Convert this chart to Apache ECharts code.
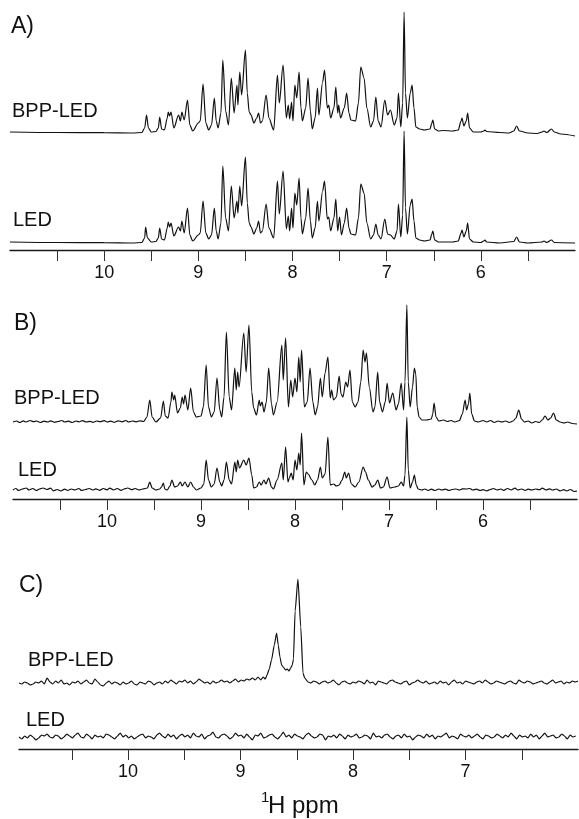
<!DOCTYPE html>
<html>
<head>
<meta charset="utf-8">
<script src="https://cdn.jsdelivr.net/npm/echarts@6/dist/echarts.min.js"></script>
<style>
html,body{margin:0;padding:0;background:#fff;}
#chart{width:579px;height:819px;}
</style>
</head>
<body>
<div id="chart"></div>
<script>
// ---------- tick values ----------
const ticksAB = [5.5, 6, 6.5, 7, 7.5, 8, 8.5, 9, 9.5, 10, 10.5];
const labelsAB = [6, 7, 8, 9, 10];
const ticksC = [6.5, 7, 7.5, 8, 8.5, 9, 9.5, 10, 10.5];
const labelsC = [7, 8, 9, 10];

// ---------- panel A: [ppm, intensity] ----------
const aBpp = [[11.0,1],[10.5,0.5],[10.0,0.3],[9.7,0],[9.6,0.5],[9.57,5],[9.55,18],[9.53,5],[9.5,1],[9.45,1.5],[9.425,5],[9.41,16],[9.39,4],[9.36,3],[9.33,15],[9.32,21],[9.305,17],[9.29,21],[9.26,5],[9.21,18],[9.19,12],[9.175,21],[9.15,13],[9.115,33],[9.09,8],[9.06,2],[9.0,10],[8.98,12],[8.95,49],[8.92,10],[8.89,3],[8.86,8],[8.83,35],[8.81,12],[8.79,5],[8.76,20],[8.74,73],[8.71,22],[8.68,8],[8.65,55],[8.62,20],[8.59,48],[8.58,28],[8.56,61],[8.54,38],[8.50,83],[8.48,40],[8.46,21],[8.44,18],[8.41,10],[8.38,15],[8.36,20],[8.34,10],[8.32,12],[8.28,38],[8.25,15],[8.20,3],[8.16,58],[8.14,30],[8.10,68],[8.065,15],[8.045,28],[8.03,14],[8.01,31],[7.995,12],[7.975,48],[7.955,35],[7.93,61],[7.91,25],[7.895,12],[7.86,25],[7.835,55],[7.81,22],[7.79,4],[7.76,15],[7.735,45],[7.72,18],[7.68,51],[7.66,63],[7.63,25],[7.615,28],[7.595,15],[7.56,25],[7.54,46],[7.52,20],[7.51,28],[7.49,15],[7.45,25],[7.425,40],[7.40,20],[7.38,13],[7.33,12],[7.30,30],[7.275,66],[7.24,55],[7.21,25],[7.17,6],[7.14,12],[7.115,36],[7.09,12],[7.06,6],[7.02,33],[6.99,18],[6.96,23],[6.92,8],[6.89,15],[6.875,40],[6.85,6],[6.83,30],[6.815,121],[6.80,40],[6.78,15],[6.75,40],[6.73,48],[6.71,25],[6.69,6],[6.65,4],[6.6,3],[6.54,4],[6.52,10],[6.51,13],[6.49,4],[6.45,2],[6.4,2.5],[6.3,2],[6.24,3],[6.21,12],[6.20,15],[6.18,7],[6.155,12],[6.14,20],[6.12,5],[6.08,1],[6.0,1],[5.97,2],[5.955,3],[5.94,1.5],[5.8,0.5],[5.7,0],[5.65,2],[5.62,7],[5.59,2],[5.5,0],[5.4,-0.5],[5.35,1],[5.33,2],[5.30,0.5],[5.25,4],[5.22,1],[5.15,-1],[5.0,-3]];

const aLed = [[11.0,1],[10.5,0.5],[10.0,0.3],[9.7,0],[9.6,0.5],[9.57,5],[9.56,16],[9.54,5],[9.5,1],[9.45,1.5],[9.425,5],[9.41,15],[9.39,4],[9.36,3],[9.33,15],[9.32,21],[9.305,16],[9.29,20],[9.26,7],[9.21,16],[9.19,12],[9.175,22],[9.15,10],[9.115,35],[9.09,8],[9.06,2],[9.0,8],[8.98,10],[8.95,42],[8.92,10],[8.89,4],[8.86,8],[8.83,35],[8.81,12],[8.79,4],[8.76,20],[8.74,77],[8.71,25],[8.68,12],[8.65,57],[8.62,25],[8.59,42],[8.58,30],[8.56,57],[8.54,37],[8.50,86],[8.48,40],[8.46,20],[8.44,16],[8.41,9],[8.38,15],[8.36,22],[8.34,10],[8.32,12],[8.28,39],[8.25,15],[8.20,5],[8.16,62],[8.14,29],[8.10,72],[8.065,14],[8.045,27],[8.03,12],[8.01,35],[7.995,15],[7.975,50],[7.955,38],[7.93,65],[7.91,25],[7.895,9],[7.86,25],[7.835,55],[7.81,22],[7.79,5],[7.76,15],[7.735,42],[7.72,22],[7.68,52],[7.66,62],[7.63,24],[7.615,26],[7.595,12],[7.56,25],[7.54,44],[7.52,12],[7.50,26],[7.48,8],[7.45,20],[7.425,35],[7.40,15],[7.38,9],[7.33,8],[7.30,25],[7.275,59],[7.24,50],[7.21,20],[7.17,4],[7.14,8],[7.115,19],[7.09,8],[7.06,4],[7.02,24],[6.99,9],[6.96,8],[6.92,4],[6.89,12],[6.875,39],[6.85,6],[6.83,28],[6.815,112],[6.80,35],[6.78,9],[6.75,38],[6.73,44],[6.71,22],[6.69,5],[6.65,3],[6.6,2],[6.54,3],[6.52,9],[6.51,12],[6.49,3],[6.45,1],[6.3,1],[6.24,2],[6.21,10],[6.20,13],[6.18,6],[6.155,12],[6.14,20],[6.12,4],[6.08,1],[6.0,0.5],[5.97,2],[5.955,3],[5.94,1],[5.8,0],[5.65,1.5],[5.62,6],[5.59,1],[5.5,0],[5.35,1],[5.33,2],[5.30,0.5],[5.25,3],[5.22,0.5],[5.0,0]];

// ---------- panel B ----------
const bBpp = [[11.0,0],[10.96,1],[10.93,-0.5],[10.89,1.2],[10.86,0],[10.82,1.5],[10.78,0.3],[10.75,1],[10.71,-0.5],[10.67,0.8],[10.63,0],[10.6,1.2],[10.56,-0.3],[10.52,0.5],[10.48,1.5],[10.45,0],[10.41,0.8],[10.37,-0.5],[10.33,1],[10.3,0.2],[10.26,1.3],[10.22,0],[10.18,0.7],[10.15,-0.4],[10.11,1],[10.07,0.3],[10.03,1.4],[10.0,0],[9.96,0.8],[9.92,-0.3],[9.88,1.2],[9.84,0.2],[9.8,1.5],[9.77,0],[9.73,1],[9.69,0.2],[9.65,1.2],[9.61,0.5],
[9.575,5],[9.545,22],[9.52,5],[9.48,0],[9.43,4],[9.40,21],[9.38,6],[9.35,4],[9.32,20],[9.31,30],[9.29,22],[9.28,27],[9.25,9],[9.22,14],[9.20,25],[9.185,18],[9.17,27],[9.14,12],[9.11,34],[9.08,10],[9.05,5],[9.0,6],[8.975,15],[8.945,57],[8.92,15],[8.89,5],[8.86,10],[8.83,44],[8.80,12],[8.78,5],[8.755,25],[8.73,90],[8.70,25],[8.675,12],[8.64,54],[8.625,32],[8.61,50],[8.595,35],[8.545,89],[8.52,50],[8.49,97],[8.46,30],[8.44,14],[8.41,7],[8.38,22],[8.37,16],[8.35,20],[8.33,10],[8.305,20],[8.28,54],[8.25,18],[8.23,7],[8.19,20],[8.14,77],[8.125,42],[8.10,84],[8.07,15],[8.045,42],[8.025,25],[8.0,44],[7.98,30],[7.96,65],[7.945,40],[7.93,72],[7.90,15],[7.87,20],[7.84,54],[7.81,20],[7.785,7],[7.76,15],[7.73,44],[7.71,25],[7.68,49],[7.65,65],[7.625,24],[7.61,32],[7.59,22],[7.56,25],[7.53,46],[7.51,28],[7.49,25],[7.46,40],[7.44,35],[7.415,52],[7.39,20],[7.36,15],[7.33,20],[7.30,40],[7.275,72],[7.255,60],[7.24,69],[7.21,35],[7.17,10],[7.15,15],[7.12,50],[7.10,20],[7.07,10],[7.04,20],[7.02,39],[6.995,19],[6.96,29],[6.925,12],[6.90,18],[6.87,39],[6.845,12],[6.83,40],[6.81,117],[6.795,40],[6.775,15],[6.75,35],[6.73,54],[6.715,48],[6.70,15],[6.68,5],[6.65,2],[6.6,2],[6.55,3],[6.535,8],[6.52,19],[6.50,5],[6.47,1],[6.42,2],[6.38,0.5],[6.34,1.5],[6.30,0],[6.25,1.5],[6.22,8],[6.19,22],[6.175,12],[6.155,18],[6.14,29],[6.12,8],[6.09,1],[6.05,0],[6.0,1.5],[5.96,0],[5.92,1.5],[5.88,-0.5],[5.84,1],[5.80,0],[5.76,1],[5.72,-0.5],[5.68,1],[5.65,4],[5.62,12],[5.59,3],[5.56,0],[5.52,1],[5.48,-1],[5.44,0.5],[5.40,-0.5],[5.37,2],[5.34,6],[5.31,2],[5.28,4],[5.25,9],[5.22,2],[5.18,0],[5.14,-1],[5.1,0],[5.05,-1.5],[5.0,-2]];

const bLed = [[11.0,0],[10.97,1.5],[10.94,-0.5],[10.9,1],[10.86,2],[10.83,0],[10.79,1.5],[10.75,-0.5],[10.72,1],[10.68,2],[10.64,0.5],[10.6,1.8],[10.57,-0.8],[10.53,0.5],[10.49,-1],[10.45,0.8],[10.42,-0.5],[10.38,1],[10.34,0],[10.3,1.5],[10.27,-0.5],[10.23,0.5],[10.19,1.5],[10.15,0],[10.12,1.2],[10.08,-0.3],[10.04,1.5],[10.0,0.2],[9.97,1.8],[9.93,0],[9.89,1.5],[9.85,-0.3],[9.82,1],[9.78,2],[9.74,0.3],[9.7,1.5],[9.66,0],[9.62,1],
[9.57,2],[9.545,8],[9.52,2],[9.48,0],[9.44,1],[9.42,3],[9.40,7],[9.385,1],[9.36,0],[9.33,4],[9.31,10],[9.28,3],[9.25,4],[9.22,8],[9.20,4],[9.17,8],[9.14,3],[9.11,8],[9.08,3],[9.05,0],[9.0,2],[8.97,6],[8.945,30],[8.92,10],[8.89,3],[8.86,6],[8.83,22],[8.80,8],[8.78,4],[8.755,10],[8.73,28],[8.70,10],[8.675,6],[8.64,28],[8.625,18],[8.61,30],[8.59,22],[8.545,30],[8.52,25],[8.49,32],[8.46,15],[8.44,2],[8.41,3],[8.38,8],[8.36,5],[8.33,10],[8.31,6],[8.28,12],[8.25,3],[8.23,1],[8.19,10],[8.14,27],[8.125,10],[8.10,43],[8.075,8],[8.06,12],[8.04,17],[8.02,10],[8.0,30],[7.98,20],[7.96,37],[7.945,25],[7.93,57],[7.905,5],[7.88,18],[7.86,16],[7.82,10],[7.79,5],[7.76,10],[7.73,23],[7.71,12],[7.68,16],[7.65,53],[7.625,5],[7.59,6],[7.56,4],[7.53,5],[7.50,10],[7.47,18],[7.455,12],[7.43,17],[7.40,6],[7.36,3],[7.32,8],[7.275,23],[7.25,18],[7.22,10],[7.18,3],[7.15,5],[7.12,10],[7.09,2],[7.06,3],[7.02,13],[6.99,2],[6.94,3],[6.90,4],[6.87,8],[6.845,4],[6.83,15],[6.81,73],[6.795,20],[6.775,2],[6.75,8],[6.73,15],[6.71,5],[6.69,1],
[6.65,0],[6.62,1],[6.58,-0.5],[6.55,0.8],[6.51,-0.5],[6.47,1],[6.44,0],[6.40,0.8],[6.36,-0.5],[6.33,0.5],[6.29,1],[6.25,0],[6.22,1.2],[6.18,1],[6.14,1.5],[6.11,0],[6.07,0.8],[6.03,-0.5],[6.0,0.3],[5.96,-0.8],[5.92,0.5],[5.89,1.5],[5.85,0],[5.81,1],[5.78,-0.3],[5.74,1.5],[5.70,0],[5.66,1.8],[5.63,0],[5.59,1],[5.55,-0.5],[5.52,0.8],[5.48,0],[5.44,1],[5.40,0.3],[5.37,1.8],[5.33,0],[5.29,1.2],[5.26,0],[5.22,1],[5.18,-0.8],[5.14,0.3],[5.11,-1],[5.07,0.5],[5.03,-1.5],[5.0,-1]];

// ---------- panel C (digitised with a fixed ppm step) ----------
const cStep = 0.025;
const cBppLeftStart = 10.97;
const cBppLeft = [0,-1,1,0,-2,-1,1,0,2,-1,
5,1,-1,2,0,3,-1,0,-2,1,
0,2,-1,1,3,0,-1,4,1,-2,
-3,0,2,-1,1,0,-2,1,-1,0,
2,-1,-2,1,0,-1,2,1,-2,0,
1,-1,2,0,3,1,-1,2,1,3,
0,2,-1,1,4,2,0,1,-1,2,
0,1,3,1,2,0,2,4,1,3,
2,4,3,5,3,6];
const cBppPeaks = [[8.82,3],[8.80,6],[8.78,4],[8.765,8],[8.745,14],[8.725,23],[8.70,38],[8.68,50],[8.665,38],[8.65,26],[8.635,18],[8.62,16],[8.60,13],[8.585,14],[8.57,12],[8.555,15],[8.54,18],[8.53,24],[8.515,72],[8.49,104],[8.465,56],[8.445,10],[8.43,5]];
const cBppRightStart = 8.40;
const cBppRight = [1,0,2,1,-1,1,2,0,1,3,
0,-2,1,2,0,-1,1,0,2,1,
-1,3,0,1,-2,2,1,0,-1,2,
3,1,0,-1,1,2,-2,0,1,3,
1,0,2,-1,0,1,-1,2,0,1,
-2,1,3,0,1,-1,2,1,0,-1,
1,2,0,3,1,-1,0,2,1,0,
-1,1,2,0,-1,3,1,0,2,1,
-1,0,1,2,0,-1,1,3,0,1,
2,-1,1,0,2,1,2];
const cLedStart = 10.97;
const cLed = [0,-2,1,-1,2,0,-3,-1,2,1,
3,0,-1,2,1,-2,0,3,1,-1,
2,4,0,-1,3,1,-2,2,0,1,
-1,3,2,0,-2,1,4,0,2,-1,
1,-2,0,2,3,-1,1,0,-2,2,
4,1,-1,3,0,2,-2,1,3,0,
2,-1,4,1,0,3,-2,1,2,5,
0,-1,2,3,1,-2,0,4,1,2,
-1,3,0,-3,2,1,4,-1,0,2,
3,0,-2,1,5,0,2,-1,3,1,
0,-2,2,4,1,-1,0,3,2,-3,
1,0,2,-1,3,1,-2,2,0,1,
3,-1,0,2,1,-2,4,0,1,-1,
2,3,0,-2,1,2,-1,3,0,1,
-3,0,2,1,-1,3,0,2,-2,1,
0,2,4,-1,1,0,-2,3,1,0,
2,-1,1,3,0,-2,2,1,-1,0,
3,1,-1,2,0,4,1,-2,2,0,
1,-1,3,0,2,-2,1,4,0,1,
2,-1,0,3,1,-2,2,0,1];

function sampled(start, vals){
  return vals.map((v,i)=>[+(start - i*cStep).toFixed(4), v]);
}
const cBppData = sampled(cBppLeftStart, cBppLeft).concat(cBppPeaks, sampled(cBppRightStart, cBppRight));
const cLedData = sampled(cLedStart, cLed);

const FONT = '"Liberation Sans", Arial, Helvetica, sans-serif';

const chart = echarts.init(document.getElementById('chart'), null, {renderer:'canvas'});

function xAxisVisible(gi, min, max, ticks, labels){
  return {
    type:'value', gridIndex:gi, min:min, max:max, inverse:true,
    axisLine:{show:true, onZero:false, lineStyle:{color:'#1a1a1a', width:1.3}},
    axisTick:{show:true, inside:false, length:11, customValues:ticks, lineStyle:{color:'#333', width:1}},
    axisLabel:{show:true, customValues:labels, margin:14, fontSize:18, color:'#111', fontFamily:FONT},
    splitLine:{show:false}
  };
}
function xAxisHidden(gi, min, max){
  return {type:'value', gridIndex:gi, min:min, max:max, inverse:true, show:false, splitLine:{show:false}};
}
function yAxis(gi, min, max){
  return {type:'value', gridIndex:gi, min:min, max:max, show:false, splitLine:{show:false}};
}
function line(i, data, sm){
  return {type:'line', xAxisIndex:i, yAxisIndex:i, data:data, showSymbol:false, symbol:'none',
    smooth:sm, smoothMonotone:'x',
    lineStyle:{color:'#111', width:1.2}, clip:false, silent:true};
}

const grids = [
  {left:10, width:565, top:10, height:130},
  {left:10, width:565, top:125, height:125},
  {left:13, width:564, top:300, height:130},
  {left:13, width:564, top:410, height:89},
  {left:19, width:559, top:570, height:125},
  {left:19, width:559, top:700, height:49}
];

function txt(x, y, s, size){
  return {type:'text', x:x, y:y, silent:true,
    style:{text:s, font:size+'px '+FONT, fill:'#111', verticalAlign:'middle', align:'left'}};
}

chart.setOption({
  animation:false,
  backgroundColor:'#fff',
  grid:grids,
  xAxis:[
    xAxisHidden(0,5,11),
    xAxisVisible(1,5,11,ticksAB,labelsAB),
    xAxisHidden(2,5,11),
    xAxisVisible(3,5,11,ticksAB,labelsAB),
    xAxisHidden(4,6,10.97),
    xAxisVisible(5,6,10.97,ticksC,labelsC)
  ],
  yAxis:[
    yAxis(0,-7,123), yAxis(1,-7,118),
    yAxis(2,-8,122), yAxis(3,-9,80),
    yAxis(4,-12,113), yAxis(5,-12,37)
  ],
  series:[
    line(0,aBpp,0.3), line(1,aLed,0.3),
    line(2,bBpp,0.3), line(3,bLed,0.3),
    line(4,cBppData,0.2), line(5,cLedData,0.1)
  ],
  graphic:[
    txt(11,27,'A)',23),
    txt(12,111,'BPP-LED',20),
    txt(13,220,'LED',20),
    txt(14,324,'B)',23),
    txt(14,398,'BPP-LED',20),
    txt(18,470,'LED',20),
    txt(19,586,'C)',23),
    txt(28,660,'BPP-LED',20),
    txt(26,720,'LED',20),
    txt(261,798,'1',15),
    txt(268,806,'H ppm',24)
  ]
});
</script>
</body>
</html>
